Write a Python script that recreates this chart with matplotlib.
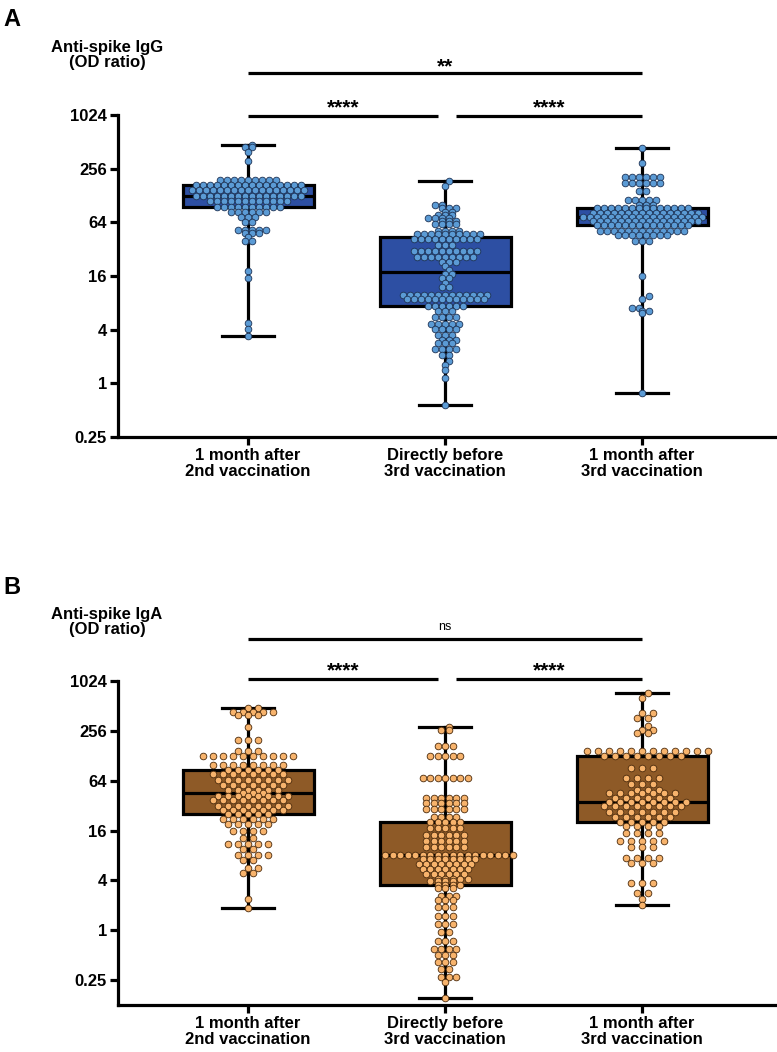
import numpy as np
import matplotlib.pyplot as plt
from matplotlib.ticker import NullLocator

plt.rcParams['font.family'] = ['Liberation Sans', 'DejaVu Sans']

categories = ['1 month after\n2nd vaccination', 'Directly before\n3rd vaccination',
              '1 month after\n3rd vaccination']
ytick_vals = [0.25, 1, 4, 16, 64, 256, 1024]
ytick_labels = ['0.25', '1', '4', '16', '64', '256', '1024']

# values read off the dot rows: level -> number of dots at that level
# panel A, anti-spike IgG
igg_post2_levels = [471, 448, 396, 315, 191, 168, 148, 127, 110, 95, 83, 73, 64,
                    53, 49, 44, 39, 18, 15, 4.8, 4.1, 3.4]
igg_post2_counts = [1, 2, 1, 1, 9, 16, 17, 16, 12, 10, 6, 3, 2,
                    5, 3, 1, 2, 1, 1, 1, 1, 1]
igg_pre3_levels = [184, 165, 100, 92, 84, 78, 71, 66, 61, 51, 47, 42, 36, 30.5, 26, 23,
                   20.6, 18.6, 16.7, 15, 13.3, 11.9, 9.8, 8.8, 7.4, 6.5, 5.6, 4.6, 4.1,
                   3.5, 3.1, 2.8, 2.4, 2.1, 1.8, 1.6, 1.4, 1.15, 0.57]
igg_pre3_counts = [1, 1, 2, 3, 2, 3, 4, 3, 4, 4, 10, 10, 3, 10, 9, 3,
                   1, 1, 2, 2, 1, 2, 13, 12, 6, 3, 4, 5, 4,
                   3, 3, 3, 4, 2, 1, 1, 1, 1, 1]
igg_post3_levels = [440, 294, 208, 175, 142, 115, 100, 92, 81, 74, 66, 59, 51, 46, 39,
                    16, 9.6, 8.9, 7, 6.5, 6.2, 0.77]
igg_post3_counts = [1, 1, 6, 6, 2, 5, 3, 14, 16, 18, 16, 14, 13, 8, 3,
                    1, 1, 1, 2, 2, 1, 1]

# panel B, anti-spike IgA
iga_post2_levels = [478, 437, 396, 288, 200, 147, 128, 100, 87, 76, 66, 57, 50, 46, 42,
                    37, 32, 28, 25, 22, 19, 16, 13, 11, 9.5, 8, 7, 5.6, 4.9, 2.4, 1.84]
iga_post2_counts = [2, 5, 3, 1, 3, 3, 10, 8, 6, 8, 8, 7, 6, 3, 8,
                    8, 8, 7, 5, 6, 5, 4, 2, 5, 2, 4, 2, 2, 2, 1, 1]
iga_pre3_levels = [288, 261, 170, 128, 68, 40, 34, 29, 23, 20, 17, 14, 12, 10, 8,
                   7.2, 6.3, 5.5, 4.8, 4.2, 3.9, 3.5, 3.2, 2.6, 2.3, 1.9, 1.5, 1.2,
                   0.95, 0.75, 0.6, 0.5, 0.41, 0.34, 0.27, 0.24, 0.15]
iga_pre3_counts = [1, 2, 3, 5, 7, 6, 6, 6, 4, 5, 5, 6, 6, 6, 18,
                   8, 8, 7, 6, 5, 4, 4, 3, 3, 3, 3, 3, 3,
                   2, 3, 4, 3, 3, 2, 3, 1, 1]
iga_post3_levels = [724, 630, 416, 362, 290, 260, 240, 147, 128, 92, 68, 58, 50, 45, 40,
                    35.5, 32, 27, 23, 20, 18, 15, 12, 10, 7.5, 6.5, 3.7, 2.8, 2.4, 2.0]
iga_post3_counts = [1, 1, 2, 2, 1, 2, 2, 12, 8, 3, 4, 3, 3, 7, 6,
                    8, 8, 7, 6, 5, 4, 4, 5, 3, 4, 3, 3, 2, 1, 1]


def expand(levels, counts):
    return np.repeat(np.array(levels, dtype=float), counts)


def row_offsets(ypix, s, dmin):
    # GraphPad-like rows: equal values sit side by side, centred; a row is
    # nudged by half a step when it would sit on top of the row below
    xs = np.zeros(len(ypix))
    keys = np.round(ypix, 2)
    px_all, py_all = np.array([]), np.array([])
    for key in np.unique(keys):
        idx = np.where(keys == key)[0]
        n = len(idx)
        base = (np.arange(n) - (n - 1) / 2) * s
        near = np.abs(py_all - key) < dmin
        best = (None, 0.0)
        for shift in [0.0, s / 2, -s / 2, s, -s]:
            cx = base + shift
            if near.any():
                dx = cx[:, None] - px_all[near][None, :]
                dy = key - py_all[near][None, :]
                hits = int(np.sum(dx ** 2 + dy ** 2 < dmin ** 2))
            else:
                hits = 0
            if best[0] is None or hits < best[0]:
                best = (hits, shift)
            if hits == 0:
                break
        xs[idx] = base + best[1]
        px_all = np.concatenate([px_all, xs[idx]])
        py_all = np.concatenate([py_all, np.full(n, key)])
    return xs


fig = plt.figure(figsize=(7.77, 10.52), dpi=100)
axA = fig.add_axes([0.1519, 0.5846, 0.8481, 0.3061])
axB = fig.add_axes([0.1519, 0.0447, 0.8481, 0.3080])

panels = [
    (axA, [expand(igg_post2_levels, igg_post2_counts),
           expand(igg_pre3_levels, igg_pre3_counts),
           expand(igg_post3_levels, igg_post3_counts)],
     '#2D4FA3', '#5B9BD5', '#1E3355', (0.25, 1024), [7.0, 7.0, 7.0], 4.9),
    (axB, [expand(iga_post2_levels, iga_post2_counts),
           expand(iga_pre3_levels, iga_pre3_counts),
           expand(iga_post3_levels, iga_post3_counts)],
     '#8E5A27', '#F7B36C', '#4A2A0C', (0.125, 1024), [10.0, 7.5, 11.0], 5.5),
]

lw = 2.3
for ax, groups, box_c, dot_c, dot_e, ylim, spacing, dmin in panels:
    ax.set_yscale('log', base=2)
    ax.boxplot(groups, positions=[0, 1, 2], widths=0.665, whis=(0, 100),
               patch_artist=True, showfliers=False, capwidths=0.265,
               boxprops=dict(facecolor=box_c, edgecolor='black', linewidth=lw, zorder=2),
               medianprops=dict(color='black', linewidth=lw, zorder=3),
               whiskerprops=dict(color='black', linewidth=lw, zorder=2),
               capprops=dict(color='black', linewidth=lw, zorder=2))
    ax.set_xlim(-0.66, 2.685)
    ax.set_ylim(*ylim)

    ppu = ax.transData.transform((1, 1))[0] - ax.transData.transform((0, 1))[0]
    for i, vals in enumerate(groups):
        ypix = ax.transData.transform(np.column_stack([np.full(len(vals), i), vals]))[:, 1]
        off = row_offsets(ypix, spacing[i], dmin)
        ax.scatter(i + off / ppu, vals, s=23, color=dot_c, edgecolors=dot_e,
                   linewidths=0.6, zorder=4, clip_on=False)

    ax.set_yticks(ytick_vals)
    ax.set_yticklabels(ytick_labels)
    ax.yaxis.set_minor_locator(NullLocator())
    ax.set_xticks([0, 1, 2])
    ax.set_xticklabels(categories, linespacing=1.05)
    ax.tick_params(axis='both', direction='out', length=6, width=lw, labelsize=12, pad=2)
    for lab in ax.get_xticklabels() + ax.get_yticklabels():
        lab.set_fontweight('bold')
    for s in ['top', 'right']:
        ax.spines[s].set_visible(False)
    for s in ['left', 'bottom']:
        ax.spines[s].set_linewidth(lw)


def bracket(ax, x0, x1, y, label, ty, size, weight='bold'):
    tr = ax.get_xaxis_transform()
    ax.plot([x0, x1], [y, y], color='black', lw=lw, transform=tr, clip_on=False,
            solid_capstyle='butt')
    ax.text((x0 + x1) / 2, ty, label, transform=tr, ha='center', va='center',
            fontsize=size, fontweight=weight)


bracket(axA, 0, 0.965, 0.997, '****', 1.022, 15)
bracket(axA, 1.056, 2, 0.997, '****', 1.022, 15)
bracket(axA, 0, 2, 1.13, '**', 1.15, 15)
bracket(axB, 0, 0.965, 1.006, '****', 1.031, 15)
bracket(axB, 1.056, 2, 1.006, '****', 1.031, 15)
bracket(axB, 0, 2, 1.13, 'ns', 1.167, 9, weight='normal')

fig.text(0.004, 1 - 20 / 1052, 'A', fontsize=17, fontweight='bold', va='center')
fig.text(0.004, 1 - 588 / 1052, 'B', fontsize=17, fontweight='bold', va='center')
fig.text(107 / 777, 1 - 55 / 1052, 'Anti-spike IgG\n(OD ratio)', fontsize=12,
         fontweight='bold', ha='center', va='center', linespacing=1.05)
fig.text(107 / 777, 1 - 622 / 1052, 'Anti-spike IgA\n(OD ratio)', fontsize=12,
         fontweight='bold', ha='center', va='center', linespacing=1.05)

fig.savefig('out.png', dpi=100)
